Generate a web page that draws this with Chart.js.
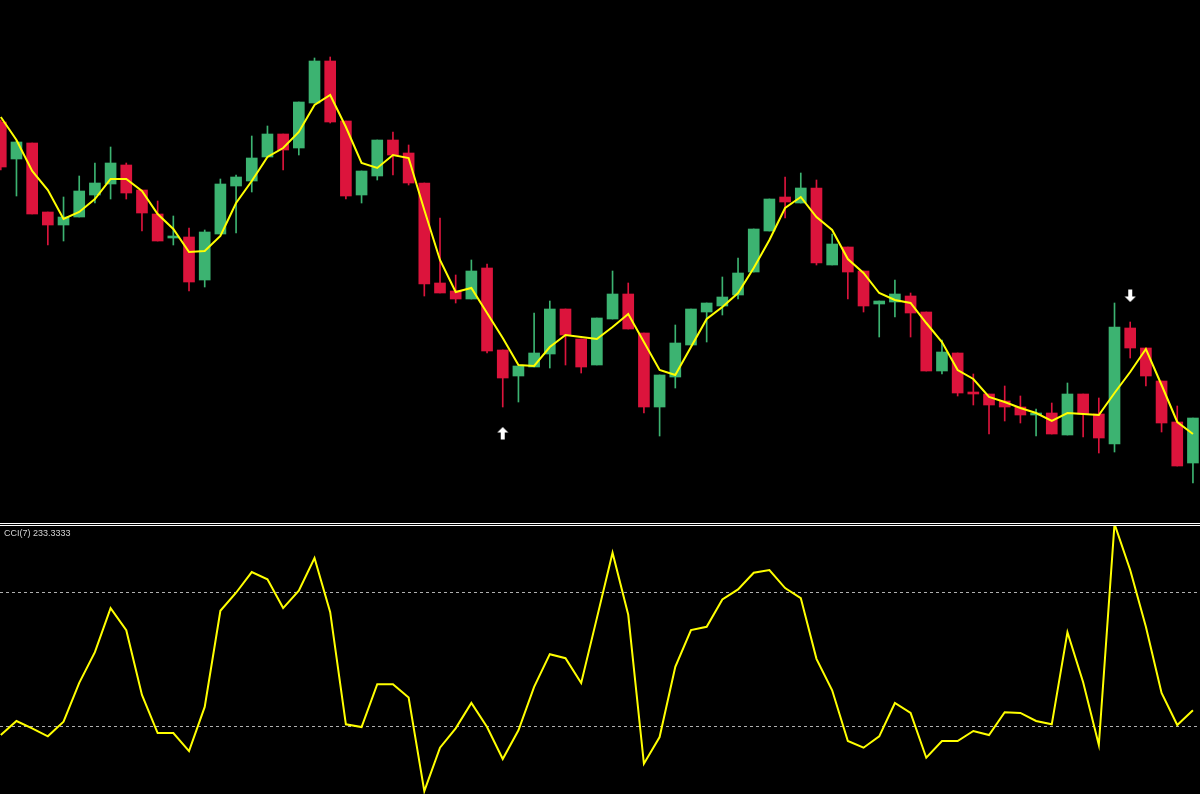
<!DOCTYPE html>
<html>
<head>
<meta charset="utf-8">
<script src="https://cdn.jsdelivr.net/npm/chart.js@4.4.1/dist/chart.umd.min.js"></script>
<style>
  html, body { margin: 0; padding: 0; background: #000; overflow: hidden; }
  #wrap { position: relative; width: 1200px; height: 794px; }
  #pricePane { position: relative; width: 1200px; height: 523px; border-bottom: 1px solid #fff; }
  #gap { height: 1px; }
  #cciPane { position: relative; width: 1200px; height: 268px; border-top: 1px solid #fff; }
  #cciLabel { position: absolute; left: 4px; top: 2px; font: 9px "Liberation Sans", Arial, sans-serif; color: #d4d4d4; z-index: 2; }
</style>
</head>
<body>
<div id="wrap">
  <div id="pricePane"><canvas id="price"></canvas></div>
  <div id="gap"></div>
  <div id="cciPane"><div id="cciLabel">CCI(7) 233.3333</div><canvas id="cci"></canvas></div>
</div>
<script>
// price in points, one entry per bar
const opens  = [398,361,377,308,295,303,325,336,355,330,306,282,283,240,286,334,339,363,386,372,417,459,399,325,344,380,367,337,237,229,221,252,170,144,153,166,211,181,155,201,226,187,113,143,175,208,214,225,248,289,323,317,332,255,273,249,216,218,224,208,149,167,128,126,119,113,105,107,85,126,106,76,192,172,139,98,57];
const highs  = [400,379,377,308,323,344,357,373,357,330,319,304,292,290,341,345,384,394,386,418,462,463,399,349,380,388,375,337,302,245,260,256,170,154,207,219,211,181,202,249,237,187,145,195,211,217,243,262,291,321,343,347,340,286,273,249,219,240,227,208,180,167,146,126,134,124,111,117,137,126,122,217,198,172,139,114,102];
const lows   = [350,324,306,275,279,303,317,321,321,289,279,275,229,233,286,287,328,363,350,365,417,397,321,317,340,345,335,224,227,217,221,167,113,118,153,152,155,147,155,201,191,107,84,132,175,178,205,221,248,289,302,317,255,255,221,208,183,203,183,149,146,124,115,86,99,97,84,86,85,83,67,68,162,134,88,54,37];
const closes = [353,378,306,295,303,329,337,357,327,307,279,284,238,288,336,343,362,386,370,418,459,398,324,349,380,365,337,236,227,221,249,169,142,154,167,211,185,153,202,226,191,113,145,177,211,217,223,247,291,321,318,332,257,276,248,214,219,226,207,149,168,127,126,115,113,105,107,86,126,106,82,193,172,144,97,54,102];
const maLine = [403,380,349,330,301,308,321,341,341,329,306,291,268,269,284,317,339,363,372,388,415,425,393,357,352,365,362,310,260,228,232,207,182,155,154,173,185,183,181,193,206,178,150,145,173,201,213,227,252,280,312,323,303,290,261,247,227,220,217,197,178,150,141,123,118,112,107,99,107,106,105,127,148,171,135,98,86];
const cciValues = [-113,-92,-103,-115,-93,-35,11,77,44,-53,-110,-110,-137,-71,73,100,131,120,77,103,152,71,-97,-101,-37,-37,-57,-197,-132,-103,-65,-101,-149,-106,-41,8,2,-35,62,160,67,-156,-116,-11,44,49,90,105,130,134,107,92,1,-46,-122,-132,-115,-65,-80,-147,-122,-122,-107,-113,-79,-80,-92,-97,41,-34,-128,203,134,49,-50,-98,-76];
const cciLevels = [-100, 100];
const buyArrows  = [{ bar: 32, price: 87 }];
const sellArrows = [{ bar: 72, price: 224 }];

const bull = "#3cb371";
const bear = "#dc143c";
const barColors = opens.map((o, i) => (closes[i] >= o ? bull : bear));

function arrowImage(up) {
  const c = document.createElement("canvas");
  c.width = 12; c.height = 14;
  const g = c.getContext("2d");
  if (!up) { g.translate(0, 14); g.scale(1, -1); }
  g.fillStyle = "#fff";
  g.beginPath();
  g.moveTo(6, 1); g.lineTo(11.5, 6.5); g.lineTo(8, 6.5); g.lineTo(8, 13.5);
  g.lineTo(4, 13.5); g.lineTo(4, 6.5); g.lineTo(0.5, 6.5);
  g.closePath();
  g.fill();
  return c;
}

function barAxis() {
  return { type: "linear", min: -0.05, max: 76.45, offset: false, display: false, grid: { offset: false } };
}

new Chart(document.getElementById("price"), {
  type: "bar",
  data: {
    datasets: [
      {
        label: "wicks",
        data: lows.map((l, i) => ({ x: i, y: [l, highs[i]] })),
        backgroundColor: barColors,
        barThickness: 1,
        grouped: false,
        order: 4,
      },
      {
        label: "bodies",
        data: opens.map((o, i) => ({ x: i, y: [o, closes[i]] })),
        backgroundColor: barColors,
        barThickness: 11,
        minBarLength: 1,
        grouped: false,
        order: 3,
      },
      {
        type: "line",
        label: "MA",
        data: maLine.map((v, i) => ({ x: i, y: v })),
        borderColor: "#ffff00",
        borderWidth: 2,
        pointRadius: 0,
        tension: 0,
        order: 2,
      },
      {
        type: "scatter",
        label: "buy",
        data: buyArrows.map((a) => ({ x: a.bar, y: a.price })),
        pointStyle: arrowImage(true),
        order: 1,
      },
      {
        type: "scatter",
        label: "sell",
        data: sellArrows.map((a) => ({ x: a.bar, y: a.price })),
        pointStyle: arrowImage(false),
        order: 1,
      },
    ],
  },
  options: {
    responsive: true,
    maintainAspectRatio: false,
    animation: false,
    layout: { padding: 0, autoPadding: false },
    plugins: { legend: { display: false }, tooltip: { enabled: false } },
    scales: {
      x: barAxis(),
      y: { type: "linear", min: -3, max: 520, display: false },
    },
  },
});

new Chart(document.getElementById("cci"), {
  type: "line",
  data: {
    datasets: [
      {
        label: "CCI(7)",
        data: cciValues.map((v, i) => ({ x: i, y: v })),
        borderColor: "#ffff00",
        borderWidth: 2,
        pointRadius: 0,
        tension: 0,
      },
    ],
  },
  options: {
    responsive: true,
    maintainAspectRatio: false,
    animation: false,
    layout: { padding: 0, autoPadding: false },
    plugins: { legend: { display: false }, tooltip: { enabled: false } },
    scales: {
      x: barAxis(),
      y: {
        type: "linear",
        min: -201.3,
        max: 199.9,
        afterBuildTicks: (s) => { s.ticks = cciLevels.map((v) => ({ value: v })); },
        afterFit: (s) => { s.width = 0; },
        ticks: { display: false },
        grid: { color: "#b0b0b0", lineWidth: 1, drawTicks: false },
        border: { display: false, dash: [3, 3] },
      },
    },
  },
});
</script>
</body>
</html>
